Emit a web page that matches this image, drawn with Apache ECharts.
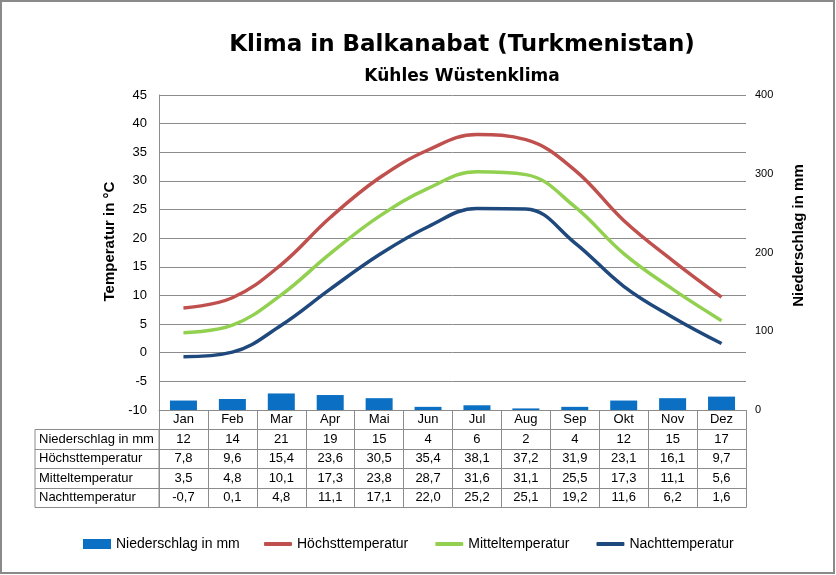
<!DOCTYPE html>
<html><head><meta charset="utf-8">
<script src="https://cdn.jsdelivr.net/npm/echarts@6/dist/echarts.min.js"></script>
<style>html,body{margin:0;padding:0;background:#fff}#c{width:836px;height:575px}</style>
</head><body><div id="c"></div>
<script>
const months = ['Jan','Feb','Mar','Apr','Mai','Jun','Jul','Aug','Sep','Okt','Nov','Dez'];
const niederschlag = [12,14,21,19,15,4,6,2,4,12,15,17];
const hoechst = [7.8,9.6,15.4,23.6,30.5,35.4,38.1,37.2,31.9,23.1,16.1,9.7];
const mittel = [3.5,4.8,10.1,17.3,23.8,28.7,31.6,31.1,25.5,17.3,11.1,5.6];
const nacht = [-0.7,0.1,4.8,11.1,17.1,22.0,25.2,25.1,19.2,11.6,6.2,1.6];
const rowNames = ['Niederschlag in mm','Höchsttemperatur','Mitteltemperatur','Nachttemperatur'];
const tempTicks = {min:-10, max:45, interval:5};
const rainTicks = {min:0, max:400, interval:100};

const fmt = v => String(v.toFixed(1)).replace('.', ',');
const rows = [niederschlag.map(String), hoechst.map(fmt), mittel.map(fmt), nacht.map(fmt)];

const G = {left:159, right:90, top:95, bottom:165};
const rowH = 19.5;
const gridColor = '#8c8c8c';
const font = 'Liberation Sans, Arial, sans-serif';
const heavy = 'DejaVu Sans, Arial, sans-serif';

const chart = echarts.init(document.getElementById('c'), null, {renderer:'canvas'});

function tableAxis(data, k, withTicks){
  return {
    type:'category', data:data, gridIndex:0, position:'bottom', offset:rowH*k,
    axisLine:{show:true, onZero:false, lineStyle:{color:gridColor, width:1}},
    axisTick:{show:withTicks, length:rowH, interval:0, lineStyle:{color:gridColor}},
    axisLabel:{show:withTicks, margin:3, fontSize:13, color:'#000', fontFamily:font, interval:0}
  };
}
const xAxes = [tableAxis(months, 0, true)];
rows.forEach((r,i)=> xAxes.push(tableAxis(r, i+1, true)));
xAxes.push(tableAxis(months, 5, false));
xAxes.push({type:'value', gridIndex:1, show:false});

const option = {
  animation:false,
  backgroundColor:'#fff',
  title:[
    {text:'Klima in Balkanabat (Turkmenistan)', left:457, top:29, textAlign:'center',
     textStyle:{fontSize:23, fontWeight:'bold', color:'#000', fontFamily:heavy}},
    {text:'Kühles Wüstenklima', left:457, top:63, textAlign:'center',
     textStyle:{fontSize:17, fontWeight:'bold', color:'#000', fontFamily:heavy}}
  ],
  grid:[
    {left:G.left, right:G.right, top:G.top, bottom:G.bottom, show:false},
    {left:35, width:124, top:575 - G.bottom + rowH, height:rowH*4,
     show:true, borderColor:gridColor, borderWidth:1, backgroundColor:'transparent'}
  ],
  legend:[
    {left:78, top:532, itemWidth:28, itemHeight:10,
     textStyle:{fontSize:14, color:'#000', fontFamily:font},
     data:[{name:'Niederschlag in mm', icon:'rect'}]},
    {left:259, top:532, itemGap:27, itemWidth:28, itemHeight:4,
     textStyle:{fontSize:14, color:'#000', fontFamily:font},
     data:[{name:'Höchsttemperatur', icon:'roundRect'},{name:'Mitteltemperatur', icon:'roundRect'},{name:'Nachttemperatur', icon:'roundRect'}]}
  ],
  xAxis:xAxes,
  yAxis:[
    {type:'value', gridIndex:0, min:tempTicks.min, max:tempTicks.max, interval:tempTicks.interval,
     position:'left',
     name:'Temperatur in °C', nameLocation:'middle', nameGap:35, nameRotate:90,
     nameTextStyle:{fontSize:15, fontWeight:'bold', color:'#000', fontFamily:font, padding:[0,0,0,22]},
     axisLine:{show:true, onZero:false, lineStyle:{color:gridColor}},
     axisTick:{show:false},
     axisLabel:{fontSize:13, color:'#000', fontFamily:font, margin:12},
     splitLine:{show:true, lineStyle:{color:gridColor, width:1}}},
    {type:'value', gridIndex:0, min:rainTicks.min, max:rainTicks.max, interval:rainTicks.interval,
     position:'right',
     name:'Niederschlag in mm', nameLocation:'middle', nameGap:45, nameRotate:90,
     nameTextStyle:{fontSize:15, fontWeight:'bold', color:'#000', fontFamily:font, padding:[0,0,0,34]},
     axisLine:{show:false}, axisTick:{show:false},
     axisLabel:{fontSize:11, color:'#000', fontFamily:font, margin:9},
     splitLine:{show:false}},
    {type:'category', gridIndex:1, data:rowNames, inverse:true,
     axisLine:{show:false}, axisTick:{show:false},
     axisLabel:{inside:true, margin:4, fontSize:13, color:'#000', fontFamily:font, align:'left', interval:0},
     splitLine:{show:true, interval:0, lineStyle:{color:gridColor, width:1}}}
  ],
  series:[
    {name:'Niederschlag in mm', type:'bar', xAxisIndex:0, yAxisIndex:1, data:niederschlag,
     barWidth:27, itemStyle:{color:'#0B6FC3'}},
    {name:'Höchsttemperatur', type:'line', xAxisIndex:0, yAxisIndex:0, data:hoechst,
     smooth:0.4, symbol:'none', lineStyle:{color:'#C0504D', width:3.5}, itemStyle:{color:'#C0504D'}},
    {name:'Mitteltemperatur', type:'line', xAxisIndex:0, yAxisIndex:0, data:mittel,
     smooth:0.4, symbol:'none', lineStyle:{color:'#92D050', width:3.5}, itemStyle:{color:'#92D050'}},
    {name:'Nachttemperatur', type:'line', xAxisIndex:0, yAxisIndex:0, data:nacht,
     smooth:0.4, symbol:'none', lineStyle:{color:'#1F497D', width:3.5}, itemStyle:{color:'#1F497D'}}
  ],
  graphic:[
    {type:'rect', shape:{x:1, y:1, width:833, height:572}, silent:true, z:-1,
     style:{fill:'none', stroke:'#8a8a8a', lineWidth:2}}
  ]
};
chart.setOption(option);
</script></body></html>
